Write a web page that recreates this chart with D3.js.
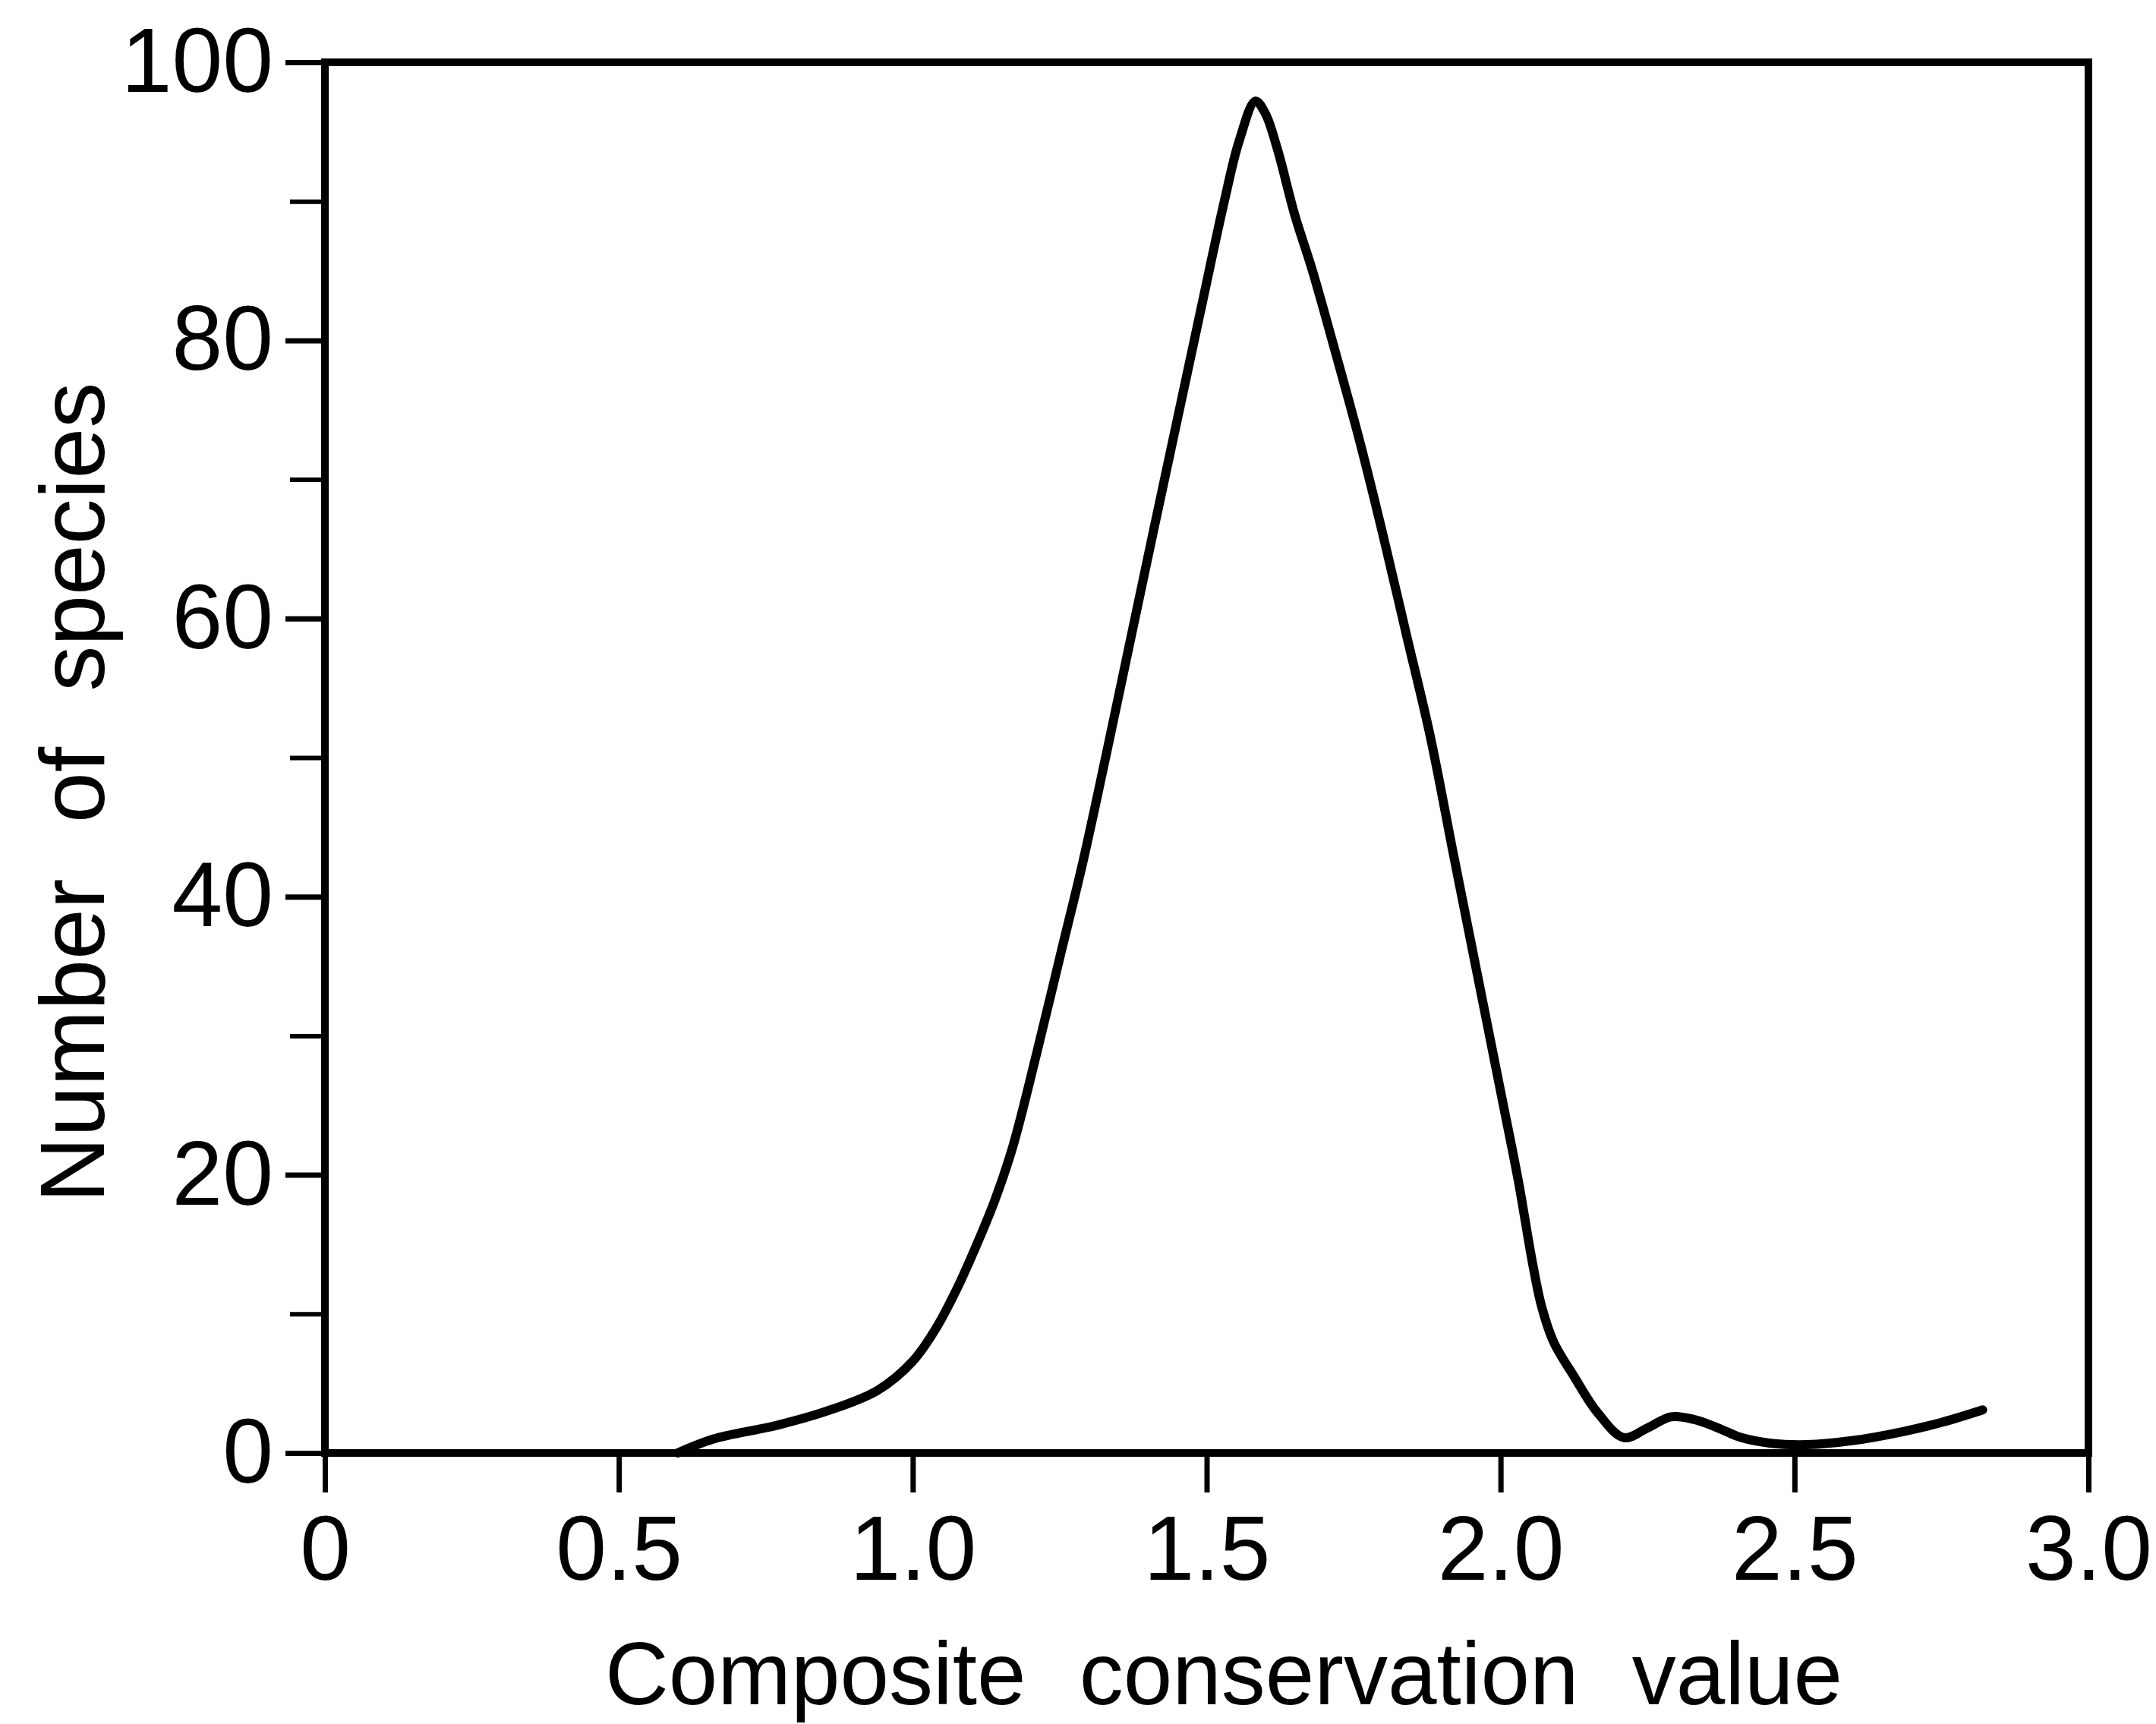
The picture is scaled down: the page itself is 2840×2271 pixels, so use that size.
<!DOCTYPE html>
<html>
<head>
<meta charset="utf-8">
<script src="https://cdn.jsdelivr.net/npm/d3@7"></script>
<style>
  html, body { margin: 0; padding: 0; background: #fff; }
  svg { display: block; }
  text { font-family: "Liberation Sans", Arial, sans-serif; fill: #000; }
</style>
</head>
<body>
<svg id="chart" width="2840" height="2271"></svg>
<script>
// ---- data ----
const composite = [0.60, 0.66, 0.77, 0.86, 0.94, 1.00, 1.04, 1.075, 1.107, 1.139, 1.17, 1.21, 1.25, 1.29, 1.33, 1.37, 1.41, 1.45, 1.49, 1.53, 1.555, 1.583, 1.60, 1.62, 1.65, 1.68, 1.72, 1.76, 1.80, 1.84, 1.88, 1.92, 1.96, 2.00, 2.03, 2.055, 2.07, 2.09, 2.125, 2.165, 2.21, 2.25, 2.29, 2.33, 2.37, 2.41, 2.46, 2.52, 2.60, 2.68, 2.75, 2.82];
const species   = [0.0, 1.0, 2.0, 3.1, 4.5, 6.6, 9.0, 11.8, 14.8, 18.1, 22.0, 28.6, 35.6, 42.6, 50.4, 58.4, 66.4, 74.3, 82.2, 90.0, 94.3, 97.2, 96.3, 93.8, 89.0, 85.0, 79.0, 72.8, 66.0, 58.8, 51.6, 43.0, 34.5, 26.0, 19.6, 13.5, 10.5, 8.0, 5.5, 2.9, 1.1, 1.8, 2.6, 2.4, 1.8, 1.1, 0.7, 0.6, 0.9, 1.5, 2.2, 3.1];
const xTicks = [0, 0.5, 1.0, 1.5, 2.0, 2.5, 3.0];
const xTickLabels = ["0", "0.5", "1.0", "1.5", "2.0", "2.5", "3.0"];
const yMajorTicks = [0, 20, 40, 60, 80, 100];
const yMinorTicks = [10, 30, 50, 70, 90];
const xTitle = "Composite conservation value";
const yTitle = "Number of species";

const svg = d3.select("#chart");
const x = d3.scaleLinear().domain([0, 3]).range([428, 2751]);
const y = d3.scaleLinear().domain([0, 100]).range([1914, 82]);

// frame
svg.append("rect")
  .attr("x", x(0)).attr("y", y(100))
  .attr("width", x(3) - x(0)).attr("height", y(0) - y(100))
  .attr("fill", "none").attr("stroke", "#000").attr("stroke-width", 10);

// y axis major
const yAxis = svg.append("g").attr("transform", `translate(${x(0)},0)`)
  .call(d3.axisLeft(y).tickValues(yMajorTicks).tickSize(52).tickPadding(16).tickFormat(d3.format("d")));
yAxis.select(".domain").remove();
yAxis.selectAll(".tick line").attr("stroke", "#000").attr("stroke-width", 7);
yAxis.selectAll(".tick text").attr("font-size", 120).attr("font-family", "Liberation Sans, Arial, sans-serif");

// y axis minor
const yMinor = svg.append("g").attr("transform", `translate(${x(0)},0)`)
  .call(d3.axisLeft(y).tickValues(yMinorTicks).tickSize(46).tickFormat(""));
yMinor.select(".domain").remove();
yMinor.selectAll(".tick line").attr("stroke", "#000").attr("stroke-width", 6);

// x axis
const xAxis = svg.append("g").attr("transform", `translate(0,${y(0)})`)
  .call(d3.axisBottom(x).tickValues(xTicks).tickSize(52).tickPadding(30)
    .tickFormat((d, i) => xTickLabels[i]));
xAxis.select(".domain").remove();
xAxis.selectAll(".tick line").attr("stroke", "#000").attr("stroke-width", 7);
xAxis.selectAll(".tick text").attr("font-size", 120).attr("font-family", "Liberation Sans, Arial, sans-serif");

// curve
const pts = composite.map((c, i) => [c, species[i]]);
svg.append("path")
  .datum(pts)
  .attr("fill", "none").attr("stroke", "#000").attr("stroke-width", 12)
  .attr("stroke-linejoin", "round").attr("stroke-linecap", "round")
  .attr("d", d3.line().x(d => x(d[0])).y(d => y(d[1])).curve(d3.curveCatmullRom.alpha(0.5)));

// titles
svg.append("text")
  .attr("x", 1612).attr("y", 2245)
  .attr("text-anchor", "middle")
  .attr("font-size", 116)
  .attr("word-spacing", 38)
  .text(xTitle);

svg.append("text")
  .attr("transform", "translate(137,1044) rotate(-90)")
  .attr("text-anchor", "middle")
  .attr("font-size", 120)
  .attr("word-spacing", 40)
  .text(yTitle);
</script>
</body>
</html>
